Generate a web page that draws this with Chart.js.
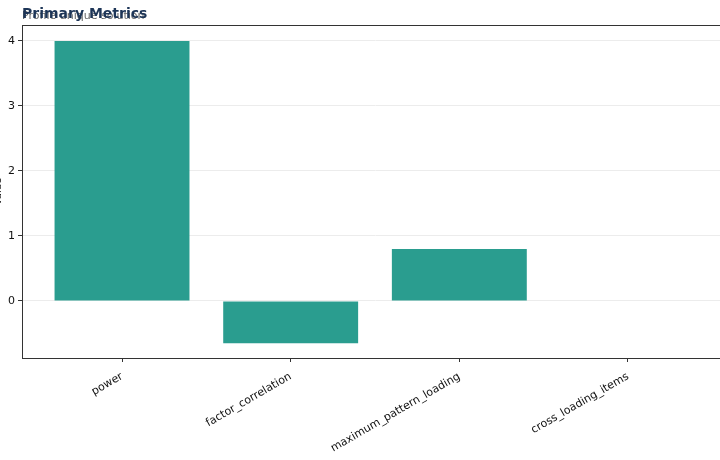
<!DOCTYPE html>
<html><head><meta charset="utf-8">
<script src="https://cdn.jsdelivr.net/npm/chart.js@4/dist/chart.umd.min.js"></script>
<style>html,body{margin:0;padding:0;overflow:hidden;background:#fff;width:720px;height:460px;position:relative}
#wrap{position:absolute;left:-8px;top:0;width:736px;height:460px}</style>
</head><body><div id="wrap"><canvas id="c"></canvas></div>
<script>
const categories = ['power','factor_correlation','maximum_pattern_loading','cross_loading_items'];
const values = [4.0, -0.65, 0.8, 0.0];
const yTicks = [0,1,2,3,4];
const titleText = 'Primary Metrics';
const subtitleText = 'Profile unique solution';
const yLabel = 'Value';

const frame = {
  id:'frame',
  afterDraw(chart){
    const {ctx, chartArea:a} = chart;
    ctx.save();
    ctx.strokeStyle='#333'; ctx.lineWidth=1;
    ctx.strokeRect(Math.round(a.left)+0.5, Math.round(a.top)+0.5, Math.round(a.right-a.left), Math.round(a.bottom-a.top));
    ctx.font='11px "DejaVu Sans"'; ctx.fillStyle='#666'; ctx.textBaseline='middle'; ctx.textAlign='left';
    ctx.fillText(subtitleText, 30, 16);
    ctx.font='bold 14px "DejaVu Sans"'; ctx.fillStyle='#1d3557';
    ctx.fillText(titleText, 30, 14);
    ctx.restore();
  }
};

new Chart(document.getElementById('c'), {
  type:'bar',
  data:{datasets:[{data: values.map((v,i)=>({x:i,y:v})), backgroundColor:'#2a9d8f', borderWidth:0,
    barPercentage:0.8, categoryPercentage:1}]},
  options:{
    responsive:true, maintainAspectRatio:false, animation:false,
    layout:{padding:{top:25,left:0,right:0,bottom:0}},
    plugins:{legend:{display:false}, tooltip:{enabled:false}},
    scales:{
      x:{type:'linear', min:-0.593, max:3.593, offset:false,
        afterBuildTicks(s){ s.ticks = categories.map((c,i)=>({value:i})); },
        afterFit(s){ s.height = 102; },
        ticks:{callback:(v)=>categories[v], minRotation:30, maxRotation:30, color:'#111', font:{family:'DejaVu Sans', size:11}, padding:8},
        grid:{offset:false, drawOnChartArea:false, color:'#333', tickLength:4, tickColor:'#333'},
        border:{color:'#333'}
      },
      y:{min:-0.877, max:4.246,
        afterBuildTicks(s){ s.ticks = yTicks.map(v=>({value:v})); },
        afterFit(s){ s.width = 30; },
        ticks:{color:'#111', font:{family:'DejaVu Sans', size:11}, padding:3},
        grid:{color:'#ececec', tickLength:4, tickColor:'#333'},
        border:{color:'#333'},
        title:{display:true, text:yLabel, color:'#222', font:{family:'DejaVu Sans', size:10}, padding:0}
      }
    }
  },
  plugins:[frame]
});
</script></body></html>
